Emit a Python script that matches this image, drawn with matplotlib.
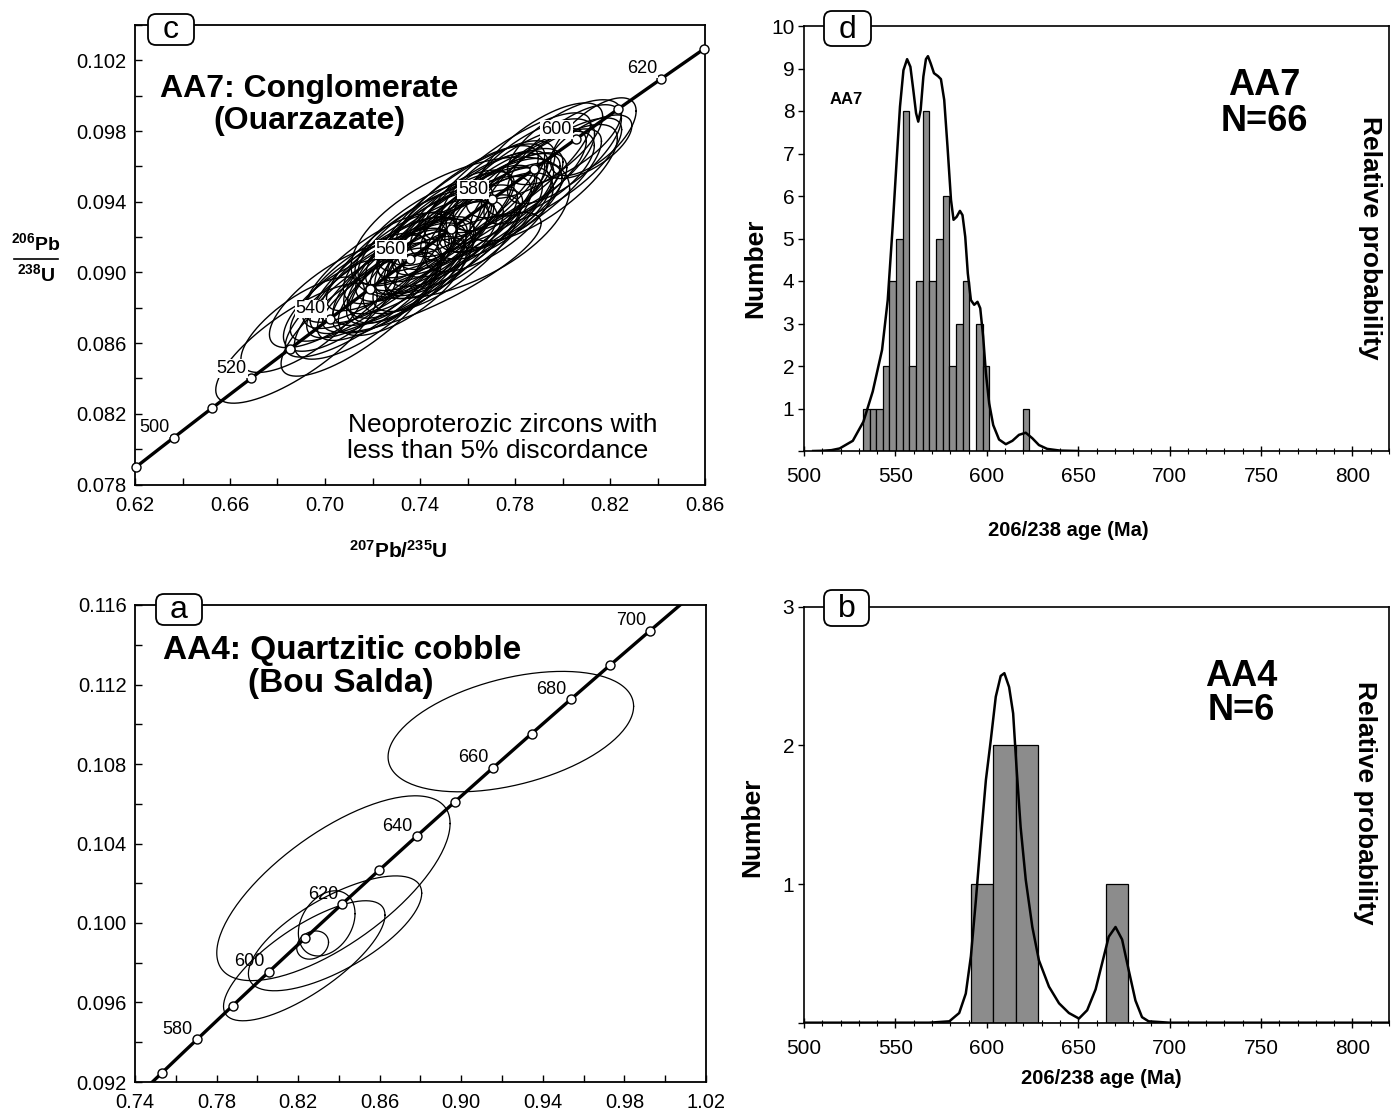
import numpy as np
import matplotlib
matplotlib.use("Agg")
import matplotlib.pyplot as plt
from matplotlib.patches import FancyBboxPatch
from matplotlib.lines import Line2D
from matplotlib.ticker import MultipleLocator, FormatStrFormatter, FuncFormatter
from matplotlib.transforms import IdentityTransform

plt.rcParams['font.family'] = ['Liberation Sans', 'DejaVu Sans']
plt.rcParams['mathtext.fontset'] = 'custom'
plt.rcParams['mathtext.rm'] = 'Liberation Sans'
plt.rcParams['mathtext.bf'] = 'Liberation Sans:bold'

W, H = 1399, 1120

# decay constants, per Ma
L238 = 1.55125e-4
L235 = 9.8485e-4

# ---- panel c: AA7 concordia ----
c_marker_ages = [490, 500, 510, 520, 530, 540, 550, 560, 570, 580, 590, 600, 610, 620, 630]
c_label_ages = [500, 520, 540, 560, 580, 600, 620]
c_x = [0.6880, 0.6906, 0.7145, 0.7065, 0.7181, 0.7046, 0.7183, 0.7260, 0.7144, 0.7326,
       0.7223, 0.7166, 0.7298, 0.7347, 0.7247, 0.7314, 0.7450, 0.7391, 0.7267, 0.7364,
       0.7211, 0.7339, 0.7421, 0.7317, 0.7512, 0.7409, 0.7356, 0.7494, 0.7542, 0.7441,
       0.7510, 0.7399, 0.7585, 0.7462, 0.7559, 0.7406, 0.7541, 0.7570, 0.7507, 0.7691,
       0.7583, 0.7527, 0.7660, 0.7713, 0.7615, 0.7683, 0.7575, 0.7768, 0.7649, 0.7748,
       0.7598, 0.7742, 0.7834, 0.7728, 0.7921, 0.7820, 0.7768, 0.7904, 0.7959, 0.7865,
       0.8008, 0.7909, 0.8112, 0.8008, 0.8130]
c_y = [0.08600, 0.08704, 0.08763, 0.08814, 0.08839, 0.08864, 0.08881, 0.08898, 0.08911, 0.08923,
       0.08940, 0.08953, 0.08965, 0.08974, 0.08984, 0.08990, 0.09000, 0.09007, 0.09014, 0.09021,
       0.09028, 0.09036, 0.09058, 0.09083, 0.09109, 0.09126, 0.09143, 0.09160, 0.09168, 0.09177,
       0.09185, 0.09194, 0.09201, 0.09207, 0.09214, 0.09221, 0.09236, 0.09253, 0.09270, 0.09284,
       0.09296, 0.09309, 0.09323, 0.09335, 0.09347, 0.09355, 0.09367, 0.09379, 0.09389, 0.09397,
       0.09407, 0.09431, 0.09462, 0.09485, 0.09507, 0.09526, 0.09543, 0.09559, 0.09574, 0.09589,
       0.09669, 0.09689, 0.09711, 0.09737, 0.09768]
c_sx = [0.034, 0.026, 0.033, 0.024, 0.031, 0.028, 0.035, 0.023, 0.029, 0.027,
        0.030, 0.026, 0.033, 0.024, 0.031, 0.028, 0.046, 0.023, 0.029, 0.027,
        0.030, 0.026, 0.033, 0.024, 0.031, 0.028, 0.035, 0.023, 0.029, 0.027,
        0.030, 0.026, 0.033, 0.024, 0.031, 0.028, 0.035, 0.046, 0.029, 0.027,
        0.030, 0.026, 0.033, 0.024, 0.031, 0.028, 0.035, 0.023, 0.029, 0.027,
        0.030, 0.026, 0.033, 0.024, 0.031, 0.028, 0.035, 0.023, 0.029, 0.027,
        0.024, 0.026, 0.018, 0.024, 0.018]
c_sy = [0.0034, 0.0027, 0.0035, 0.0026, 0.0033, 0.0029, 0.0036, 0.0024, 0.0030, 0.0028,
        0.0031, 0.0027, 0.0035, 0.0026, 0.0033, 0.0029, 0.0034, 0.0024, 0.0030, 0.0028,
        0.0031, 0.0027, 0.0035, 0.0026, 0.0033, 0.0029, 0.0036, 0.0024, 0.0030, 0.0028,
        0.0031, 0.0027, 0.0035, 0.0026, 0.0033, 0.0029, 0.0036, 0.0040, 0.0030, 0.0028,
        0.0031, 0.0027, 0.0035, 0.0026, 0.0033, 0.0029, 0.0036, 0.0024, 0.0030, 0.0028,
        0.0031, 0.0027, 0.0035, 0.0026, 0.0033, 0.0029, 0.0036, 0.0024, 0.0030, 0.0028,
        0.0028, 0.0027, 0.0018, 0.0024, 0.0022]
c_rho = [0.78, 0.72, 0.80, 0.68, 0.76, 0.74, 0.82, 0.66, 0.78, 0.70,
         0.78, 0.72, 0.80, 0.68, 0.76, 0.74, 0.82, 0.66, 0.78, 0.70,
         0.78, 0.72, 0.80, 0.68, 0.76, 0.74, 0.82, 0.66, 0.78, 0.70,
         0.78, 0.72, 0.80, 0.68, 0.76, 0.74, 0.82, 0.55, 0.78, 0.70,
         0.78, 0.72, 0.80, 0.68, 0.76, 0.74, 0.82, 0.66, 0.78, 0.70,
         0.78, 0.72, 0.80, 0.68, 0.76, 0.74, 0.82, 0.66, 0.78, 0.70,
         0.72, 0.72, 0.66, 0.68, 0.66]

# ---- panel a: AA4 concordia ----
a_marker_ages = [570, 580, 590, 600, 610, 620, 630, 640, 650, 660, 670, 680, 690, 700]
a_label_ages = [580, 600, 620, 640, 660, 680, 700]
a_x = [0.8373, 0.9243, 0.8381, 0.8340, 0.8271, 0.8230]
a_y = [0.10175, 0.10963, 0.09948, 0.09998, 0.09889, 0.09810]
a_sx = [0.0572, 0.0602, 0.0425, 0.0139, 0.0078, 0.0396]
a_sy = [0.00465, 0.00303, 0.00289, 0.00164, 0.00071, 0.00302]
a_rho = [0.70, 0.42, 0.70, 0.30, 0.20, 0.76]

# ---- panel d: AA7 histogram + probability curve ----
d_bin_start = 532.2
d_bin_width = 3.64
d_counts = [1, 1, 1, 2, 4, 5, 8, 2, 4, 8, 4, 5, 6, 2, 3, 4, 0, 3, 2, 0, 0, 0, 0, 0, 1]
d_pdp_age = [505, 510, 515, 519.5, 526.7, 532.5, 537.6, 542.7, 545.8, 548.5, 550.7, 552.5,
             554.4, 556.4, 558.2, 559.8, 561.3, 562.5, 563.8, 565.3, 566.7, 567.8, 569.3,
             571.1, 573.3, 574.9, 576.7, 578.5, 580.4, 581.8, 583.5, 585.3, 586.7, 588.2,
             589.6, 591.3, 593.1, 594.9, 596.4, 598.0, 599.5, 601.3, 603.5, 606.7, 610.4,
             614.0, 617.6, 621.3, 624.9, 628.5, 633, 640, 650]
d_pdp_val = [0.0, 0.005, 0.02, 0.06, 0.24, 0.69, 1.40, 2.38, 3.55, 5.28, 6.85, 8.10,
             8.96, 9.22, 9.04, 8.49, 7.95, 7.75, 8.02, 8.81, 9.22, 9.29, 9.12,
             8.89, 8.82, 8.75, 8.26, 7.16, 5.91, 5.44, 5.51, 5.65, 5.55, 5.04,
             4.18, 3.55, 3.44, 3.51, 3.36, 2.69, 1.83, 1.12, 0.61, 0.27, 0.16,
             0.24, 0.38, 0.43, 0.30, 0.14, 0.05, 0.01, 0.0]

# ---- panel b: AA4 histogram + probability curve ----
b_bin_start = 591.3
b_bin_width = 12.3
b_counts = [1, 2, 2, 0, 0, 0, 1]
b_pdp_age = [500, 568.5, 579.5, 584.9, 588.5, 591.3, 594.0, 596.7, 599.5, 602.2, 604.9,
             607.6, 609.6, 612.2, 614.4, 616.2, 618.5, 621.3, 624.9, 628.5, 634.0, 639.5,
             644.9, 650.4, 654.9, 659.5, 663.1, 666.7, 670.4, 674.0, 677.6, 681.3, 684.9,
             688.5, 700, 820]
b_pdp_val = [0.0, 0.0, 0.01, 0.07, 0.21, 0.48, 0.88, 1.32, 1.75, 2.04, 2.35,
             2.50, 2.52, 2.42, 2.23, 1.85, 1.41, 1.03, 0.69, 0.45, 0.26, 0.14,
             0.07, 0.03, 0.09, 0.24, 0.43, 0.62, 0.69, 0.60, 0.38, 0.16, 0.04,
             0.01, 0.0, 0.0]


def fx(px):
    return px / W


def fy(py):
    return 1 - py / H


def concordia(t):
    t = np.asarray(t, dtype=float)
    return np.exp(L235 * t) - 1, np.exp(L238 * t) - 1


def draw_ellipse(ax, x, y, sx, sy, rho, lw=0.8):
    th = np.linspace(0, 2 * np.pi, 181)
    ex = x + sx * np.cos(th)
    ey = y + sy * (rho * np.cos(th) + np.sqrt(1 - rho ** 2) * np.sin(th))
    ax.plot(ex, ey, color='black', lw=lw, zorder=2)


def label_box(fig, letter, x0, y0, x1, y1):
    # rounded white box straddling the top spine, pixel coords from top-left
    patch = FancyBboxPatch((x0, H - y1), x1 - x0, y1 - y0,
                           boxstyle='round,pad=0,rounding_size=8',
                           transform=IdentityTransform(), fc='white', ec='black',
                           lw=1.3, zorder=10)
    fig.add_artist(patch)
    fig.text(fx((x0 + x1) / 2), fy((y0 + y1) / 2 + 1), letter, ha='center', va='center',
             fontsize=23, zorder=11)


def concordia_panel(ax, xlim, ylim, marker_ages, label_ages, ex, ey, esx, esy, erho, elw,
                    xoff, yoff, label_bg):
    for i in range(len(ex)):
        draw_ellipse(ax, ex[i], ey[i], esx[i], esy[i], erho[i], lw=elw)
    tt = np.linspace(450, 760, 800)
    cx, cy = concordia(tt)
    ax.plot(cx, cy, color='black', lw=2.4, zorder=3)
    mx, my = concordia(marker_ages)
    ax.plot(mx, my, 'o', ms=6.5, mfc='white', mec='black', mew=1.0, zorder=4, clip_on=False)
    lx, ly = concordia(label_ages)
    for t, x, y in zip(label_ages, lx, ly):
        kw = {}
        if label_bg:
            kw['bbox'] = dict(boxstyle='square,pad=0.05', fc='white', ec='none')
        ax.annotate(str(t), (x, y), xytext=(-3, 1), textcoords='offset points',
                    ha='right', va='bottom', fontsize=13, zorder=5, **kw)
    ax.set_xlim(*xlim)
    ax.set_ylim(*ylim)
    ax.tick_params(which='both', direction='in', labelsize=14.5)
    ax.tick_params(which='major', length=5, width=1)
    ax.tick_params(which='minor', length=5, width=1)
    ax.tick_params(axis='y', pad=6)
    ax.tick_params(axis='x', pad=8)
    ax.xaxis.set_major_locator(MultipleLocator(0.04, offset=xoff))
    ax.xaxis.set_minor_locator(MultipleLocator(0.02))
    ax.yaxis.set_major_locator(MultipleLocator(0.004, offset=yoff))
    ax.yaxis.set_minor_locator(MultipleLocator(0.002))
    ax.xaxis.set_major_formatter(FormatStrFormatter('%.2f'))
    ax.yaxis.set_major_formatter(FormatStrFormatter('%.3f'))
    for s in ax.spines.values():
        s.set_linewidth(1.3)


def hist_panel(ax, start, width, counts, pdp_age, pdp_val, ymax):
    lefts = [start + i * width for i in range(len(counts))]
    ax.bar(lefts, counts, width=width, align='edge', color='#8c8c8c',
           edgecolor='black', lw=0.9, zorder=2)
    ax.plot(pdp_age, pdp_val, color='black', lw=1.8, zorder=3)
    ax.set_xlim(500, 820)
    ax.set_ylim(0, ymax)
    ax.xaxis.set_major_locator(MultipleLocator(50))
    ax.xaxis.set_minor_locator(MultipleLocator(10))
    ax.yaxis.set_major_locator(MultipleLocator(1))
    ax.yaxis.set_major_formatter(FuncFormatter(lambda v, p: '' if v == 0 else '%d' % v))
    ax.tick_params(axis='x', which='both', direction='inout', labelsize=15, pad=8)
    ax.tick_params(axis='x', which='major', length=7, width=1)
    ax.tick_params(axis='x', which='minor', length=5, width=0.8)
    ax.tick_params(axis='y', direction='out', length=4, width=1, labelsize=15, pad=3)
    for s in ax.spines.values():
        s.set_linewidth(1.2)


fig = plt.figure(figsize=(W / 100, H / 100), dpi=100)

ax_c = fig.add_axes([fx(135), fy(484.5), (705 - 135) / W, (484.5 - 25) / H])
ax_a = fig.add_axes([fx(135), fy(1082), (706 - 135) / W, (1082 - 605) / H])
ax_d = fig.add_axes([fx(804), fy(451), (1389 - 804) / W, (451 - 26) / H])
ax_b = fig.add_axes([fx(804), fy(1022.7), (1389 - 804) / W, (1022.7 - 606.6) / H])

concordia_panel(ax_c, (0.62, 0.86), (0.078, 0.104), c_marker_ages, c_label_ages,
                c_x, c_y, c_sx, c_sy, c_rho, 1.0, 0.02, 0.002, True)
concordia_panel(ax_a, (0.74, 1.02), (0.092, 0.116), a_marker_ages, a_label_ages,
                a_x, a_y, a_sx, a_sy, a_rho, 0.9, 0.02, 0.0, False)

hist_panel(ax_d, d_bin_start, d_bin_width, d_counts, d_pdp_age, d_pdp_val, 10)
hist_panel(ax_b, b_bin_start, b_bin_width, b_counts, b_pdp_age, b_pdp_val, 3)

# titles and notes on the concordia panels
fig.text(fx(309), fy(97), 'AA7: Conglomerate', ha='center', va='baseline',
         fontsize=23, fontweight='bold')
fig.text(fx(309), fy(129), '(Ouarzazate)', ha='center', va='baseline',
         fontsize=23, fontweight='bold')
fig.text(fx(348), fy(432), 'Neoproterozic zircons with', ha='left', va='baseline', fontsize=19)
fig.text(fx(347), fy(458), 'less than 5% discordance', ha='left', va='baseline', fontsize=19)
fig.text(fx(342), fy(659), 'AA4: Quartzitic cobble', ha='center', va='baseline',
         fontsize=24, fontweight='bold')
fig.text(fx(341), fy(692), '(Bou Salda)', ha='center', va='baseline',
         fontsize=24, fontweight='bold')

# concordia axis labels
fig.text(fx(398), fy(551), r'$\mathbf{^{207}Pb/^{235}U}$', ha='center', va='center', fontsize=15)
fig.text(fx(36), fy(243), r'$\mathbf{^{206}Pb}$', ha='center', va='center', fontsize=14)
fig.text(fx(36), fy(274), r'$\mathbf{^{238}U}$', ha='center', va='center', fontsize=14)
fig.add_artist(Line2D([fx(14), fx(58)], [fy(259), fy(259)], color='black', lw=1.2))

# histogram labels
fig.text(fx(755), fy(268), 'Number', rotation=90, ha='center', va='center',
         fontsize=19, fontweight='bold')
fig.text(fx(752), fy(827), 'Number', rotation=90, ha='center', va='center',
         fontsize=19, fontweight='bold')
fig.text(fx(1370), fy(238), 'Relative probability', rotation=-90, ha='center', va='center',
         fontsize=19, fontweight='bold')
fig.text(fx(1365), fy(803), 'Relative probability', rotation=-90, ha='center', va='center',
         fontsize=19, fontweight='bold')
fig.text(fx(1068), fy(530), '206/238 age (Ma)', ha='center', va='center',
         fontsize=14.5, fontweight='bold')
fig.text(fx(1101), fy(1078), '206/238 age (Ma)', ha='center', va='center',
         fontsize=14.5, fontweight='bold')
fig.text(fx(1264), fy(85.5), 'AA7', ha='center', va='center', fontsize=26, fontweight='bold')
fig.text(fx(1264), fy(121.5), 'N=66', ha='center', va='center', fontsize=26, fontweight='bold')
fig.text(fx(1241), fy(677), 'AA4', ha='center', va='center', fontsize=26, fontweight='bold')
fig.text(fx(1241), fy(711), 'N=6', ha='center', va='center', fontsize=26, fontweight='bold')
fig.text(fx(846.5), fy(99), 'AA7', ha='center', va='center', fontsize=12, fontweight='bold')

label_box(fig, 'c', 148, 14, 194, 45)
label_box(fig, 'd', 824, 11, 871, 46)
label_box(fig, 'a', 156, 594, 202, 625)
label_box(fig, 'b', 824, 590, 869, 626)

fig.savefig('out.png', dpi=100)
